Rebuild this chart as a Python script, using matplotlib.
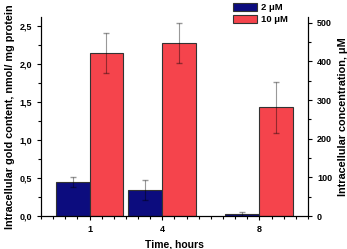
import matplotlib.pyplot as plt
from matplotlib.ticker import MultipleLocator, FuncFormatter

hours = [1, 4, 8]
gold_2uM = [0.447, 0.338, 0.02]
err_2uM = [0.065, 0.132, 0.03]
gold_10uM = [2.149, 2.28, 1.43]
err_10uM = [0.262, 0.265, 0.337]
labels = ['2 \u03bcM', '10 \u03bcM']

plt.rcParams['font.family'] = ['Liberation Sans', 'DejaVu Sans']
plt.rcParams['font.weight'] = 'bold'


def comma(v, pos):
    return ('%.1f' % v).replace('.', ',')


def main():
    fig = plt.figure(figsize=(3.47, 2.49), dpi=100)
    ax = fig.add_axes([0.118, 0.1325, 0.7696, 0.7992])

    w = 1.4
    b1 = ax.bar([h - w / 2 for h in hours], gold_2uM, w, color='#0c0c7e',
                edgecolor='#333333', linewidth=0.8, label=labels[0])
    b2 = ax.bar([h + w / 2 for h in hours], gold_10uM, w, color='#f5444c',
                edgecolor='#333333', linewidth=0.8, label=labels[1])
    ax.errorbar([h - w / 2 for h in hours], gold_2uM, yerr=err_2uM, fmt='none',
                ecolor='black', alpha=0.4, elinewidth=0.8, capsize=2)
    ax.errorbar([h + w / 2 for h in hours], gold_10uM, yerr=err_10uM, fmt='none',
                ecolor='black', alpha=0.4, elinewidth=0.8, capsize=2)

    ax.set_xlim(-1, 10)
    ax.set_ylim(0, 2.62)
    ax.set_xticks(hours)
    ax.xaxis.set_minor_locator(MultipleLocator(0.5))
    ax.yaxis.set_major_locator(MultipleLocator(0.5))
    ax.yaxis.set_minor_locator(MultipleLocator(0.25))
    ax.yaxis.set_major_formatter(FuncFormatter(comma))
    ax.tick_params(labelsize=6.5, width=0.8, length=3)
    ax.tick_params(which='minor', width=0.8, length=2)
    ax.spines['top'].set_visible(False)
    ax.set_xlabel('Time, hours', fontsize=7.5, fontweight='bold', labelpad=4)
    ax.set_ylabel('Intracellular gold content, nmol/ mg protein', fontsize=7.8,
                  fontweight='bold', labelpad=3)

    ax2 = ax.twinx()
    ax2.set_ylim(0, 515)
    ax2.yaxis.set_major_locator(MultipleLocator(100))
    ax2.yaxis.set_minor_locator(MultipleLocator(50))
    ax2.tick_params(labelsize=6.5, width=0.8, length=3)
    ax2.tick_params(which='minor', width=0.8, length=2)
    ax2.spines['top'].set_visible(False)
    ax2.set_ylabel('Intracellular concentration, \u03bcM', fontsize=7.8,
                   fontweight='bold', labelpad=4)

    fig.legend(handles=[b1, b2], loc='upper left', bbox_to_anchor=(0.66, 1.005),
               frameon=False, fontsize=6.8, handlelength=2.6, handleheight=1.0,
               handletextpad=0.4, labelspacing=0.3, borderaxespad=0)

    fig.savefig('out.png', dpi=100)


if __name__ == '__main__':
    main()
